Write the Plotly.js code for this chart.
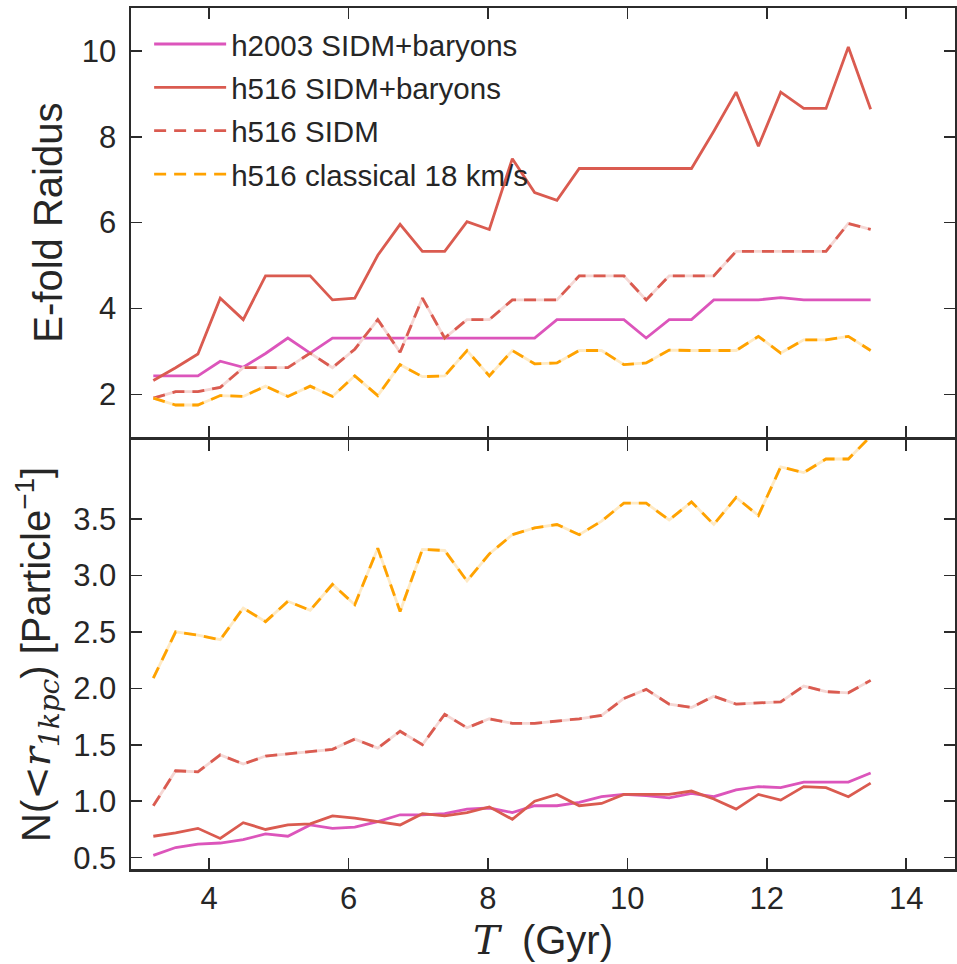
<!DOCTYPE html>
<html>
<head>
<meta charset="utf-8">
<script src="https://cdn.plot.ly/plotly-3.0.1.min.js"></script>
<style>html,body{margin:0;padding:0;background:#fff;}#chart{width:957px;height:964px;}</style>
</head>
<body>
<div id="chart"></div>
<script>
// Time (Gyr)
const T = [3.20, 3.52, 3.84, 4.16, 4.49, 4.81, 5.13, 5.45, 5.77, 6.09, 6.42, 6.74, 7.06, 7.38, 7.70, 8.02, 8.35,
           8.67, 8.99, 9.31, 9.63, 9.95, 10.27, 10.60, 10.92, 11.24, 11.56, 11.88, 12.20, 12.53, 12.85, 13.17, 13.49];

const seriesNames = ["h2003 SIDM+baryons", "h516 SIDM+baryons", "h516 SIDM", "h516 classical 18 km/s"];

// Top panel: E-fold radius
const efold_h2003_sidmb = [2.43, 2.43, 2.43, 2.77, 2.63, 2.95, 3.31, 2.96, 3.31, 3.31, 3.31, 3.31, 3.31, 3.31, 3.31, 3.31, 3.31,
                           3.31, 3.74, 3.74, 3.74, 3.74, 3.31, 3.74, 3.74, 4.20, 4.20, 4.20, 4.25, 4.20, 4.20, 4.20, 4.20];
const efold_h516_sidmb  = [2.32, 2.62, 2.94, 4.24, 3.74, 4.76, 4.76, 4.76, 4.20, 4.24, 5.24, 5.96, 5.33, 5.33, 6.02, 5.84, 7.49,
                           6.70, 6.52, 7.26, 7.26, 7.26, 7.26, 7.26, 7.26, 8.13, 9.04, 7.78, 9.04, 8.66, 8.66, 10.09, 8.64];
const efold_h516_sidm   = [1.91, 2.06, 2.06, 2.16, 2.62, 2.62, 2.62, 2.96, 2.62, 3.05, 3.74, 2.98, 4.24, 3.31, 3.74, 3.74, 4.20,
                           4.20, 4.20, 4.76, 4.76, 4.76, 4.20, 4.76, 4.76, 4.76, 5.33, 5.33, 5.33, 5.33, 5.33, 5.98, 5.84];
const efold_h516_class  = [1.91, 1.75, 1.75, 1.97, 1.95, 2.19, 1.95, 2.19, 1.95, 2.43, 1.97, 2.69, 2.41, 2.43, 3.02, 2.43, 3.02,
                           2.71, 2.73, 3.02, 3.02, 2.69, 2.73, 3.03, 3.02, 3.02, 3.02, 3.35, 2.96, 3.27, 3.27, 3.35, 3.02];

// Bottom panel: N(<r_1kpc)
const n_h2003_sidmb = [0.52, 0.59, 0.62, 0.63, 0.66, 0.71, 0.69, 0.79, 0.76, 0.77, 0.82, 0.88, 0.88, 0.89, 0.93, 0.94, 0.90,
                       0.96, 0.96, 0.99, 1.04, 1.06, 1.05, 1.03, 1.07, 1.04, 1.10, 1.13, 1.12, 1.17, 1.17, 1.17, 1.25];
const n_h516_sidmb  = [0.69, 0.72, 0.76, 0.67, 0.81, 0.75, 0.79, 0.80, 0.87, 0.85, 0.82, 0.79, 0.89, 0.87, 0.90, 0.95, 0.84,
                       1.00, 1.06, 0.96, 0.98, 1.06, 1.06, 1.06, 1.09, 1.02, 0.93, 1.06, 1.01, 1.13, 1.12, 1.04, 1.16];
const n_h516_sidm   = [0.96, 1.27, 1.26, 1.41, 1.33, 1.40, 1.42, 1.44, 1.46, 1.55, 1.47, 1.62, 1.50, 1.77, 1.65, 1.73, 1.69,
                       1.69, 1.71, 1.73, 1.76, 1.91, 1.99, 1.86, 1.83, 1.93, 1.86, 1.87, 1.88, 2.02, 1.97, 1.96, 2.07];
const n_h516_class  = [2.09, 2.50, 2.47, 2.43, 2.71, 2.59, 2.77, 2.69, 2.92, 2.74, 3.24, 2.68, 3.23, 3.22, 2.95, 3.19, 3.36,
                       3.42, 3.45, 3.36, 3.48, 3.64, 3.64, 3.49, 3.65, 3.45, 3.69, 3.53, 3.96, 3.91, 4.03, 4.03, 4.23];

const xTicks = [4, 6, 8, 10, 12, 14];
const yTopTicks = [2, 4, 6, 8, 10];
const yBotTicks = [0.5, 1.0, 1.5, 2.0, 2.5, 3.0, 3.5];
const yBotTickText = ["0.5", "1.0", "1.5", "2.0", "2.5", "3.0", "3.5"];

const PINK = "#dc55bb", RED = "#da5b50", ORANGE = "#ffa200";
const RED_LIGHT = "#f5d7d4", ORANGE_LIGHT = "#ffeac4";
const LW = 2.8, DASH = "12px,8px";

function solid(x, y, color, name, xa, ya, show, rank) {
  return {x, y, type: "scatter", mode: "lines", name, xaxis: xa, yaxis: ya,
          line: {color, width: LW}, showlegend: show, legendgroup: name, legendrank: rank, hoverinfo: "skip"};
}
function dashed(x, y, color, light, name, xa, ya, show, rank) {
  return [
    {x, y, type: "scatter", mode: "lines", xaxis: xa, yaxis: ya, line: {color: light, width: LW},
     showlegend: false, hoverinfo: "skip"},
    {x, y, type: "scatter", mode: "lines", name, xaxis: xa, yaxis: ya,
     line: {color, width: LW, dash: DASH}, showlegend: show, legendgroup: name, legendrank: rank, hoverinfo: "skip"}
  ];
}

const data = [
  solid(T, efold_h2003_sidmb, PINK, seriesNames[0], "x2", "y2", true, 1),
  solid(T, efold_h516_sidmb, RED, seriesNames[1], "x2", "y2", true, 2),
  ...dashed(T, efold_h516_sidm, RED, RED_LIGHT, seriesNames[2], "x2", "y2", true, 3),
  ...dashed(T, efold_h516_class, ORANGE, ORANGE_LIGHT, seriesNames[3], "x2", "y2", true, 4),
  solid(T, n_h2003_sidmb, PINK, seriesNames[0], "x", "y", false, 1),
  solid(T, n_h516_sidmb, RED, seriesNames[1], "x", "y", false, 2),
  ...dashed(T, n_h516_sidm, RED, RED_LIGHT, seriesNames[2], "x", "y", false, 3),
  ...dashed(T, n_h516_class, ORANGE, ORANGE_LIGHT, seriesNames[3], "x", "y", false, 4)
];

const AX = "#2b2b2b";
const common = {
  showline: true, linecolor: AX, linewidth: 2.5, mirror: "ticks",
  ticks: "inside", ticklen: 11, tickwidth: 1.5, tickcolor: AX,
  showgrid: false, zeroline: false, fixedrange: true
};
const FONT = "Liberation Sans, Arial, sans-serif";
const TF = {family: FONT, size: 31, color: "#262626"};
const TITLEF = {family: FONT, size: 40, color: "#262626"};

const layout = {
  width: 957, height: 964,
  margin: {l: 131, r: 2, t: 8, b: 95},
  paper_bgcolor: "#fff", plot_bgcolor: "#fff",
  font: {family: FONT, color: "#262626"},
  showlegend: true,
  legend: {x: 0.022, y: 0.988, xanchor: "left", yanchor: "top", bgcolor: "rgba(0,0,0,0)",
           font: {family: FONT, size: 29.5, color: "#262626"}, itemwidth: 72,
           traceorder: "grouped", tracegroupgap: 2},
  xaxis: Object.assign({}, common, {domain: [0, 1], range: [2.88, 14.7], anchor: "y",
           tickvals: xTicks, ticktext: xTicks.map(String), tickfont: TF,
           title: {text: "<span style=\"font-family:'DejaVu Serif';font-style:italic\">T</span>  (Gyr)",
                   font: TITLEF, standoff: 12}}),
  yaxis: Object.assign({}, common, {domain: [0, 0.4985], range: [0.4, 4.2], anchor: "x",
           tickvals: yBotTicks, ticktext: yBotTickText, tickfont: TF, ticklabelstandoff: 6,
           title: {text: "N(<span style=\"font-family:'DejaVu Serif';font-style:italic\">&lt;r<sub>1kpc</sub></span>) [Particle<sup>−1</sup>]",
                   font: TITLEF, standoff: 10}}),
  xaxis2: Object.assign({}, common, {domain: [0, 1], range: [2.88, 14.7], anchor: "y2",
           tickvals: xTicks, showticklabels: false, matches: "x"}),
  yaxis2: Object.assign({}, common, {domain: [0.5015, 1], range: [1.0, 11.0], anchor: "x2",
           tickvals: yTopTicks, ticktext: yTopTicks.map(String), tickfont: TF, ticklabelstandoff: 6,
           title: {text: "E-fold Raidus", font: TITLEF, standoff: 7}})
};

Plotly.newPlot("chart", data, layout, {displayModeBar: false, staticPlot: true});
</script>
</body>
</html>
